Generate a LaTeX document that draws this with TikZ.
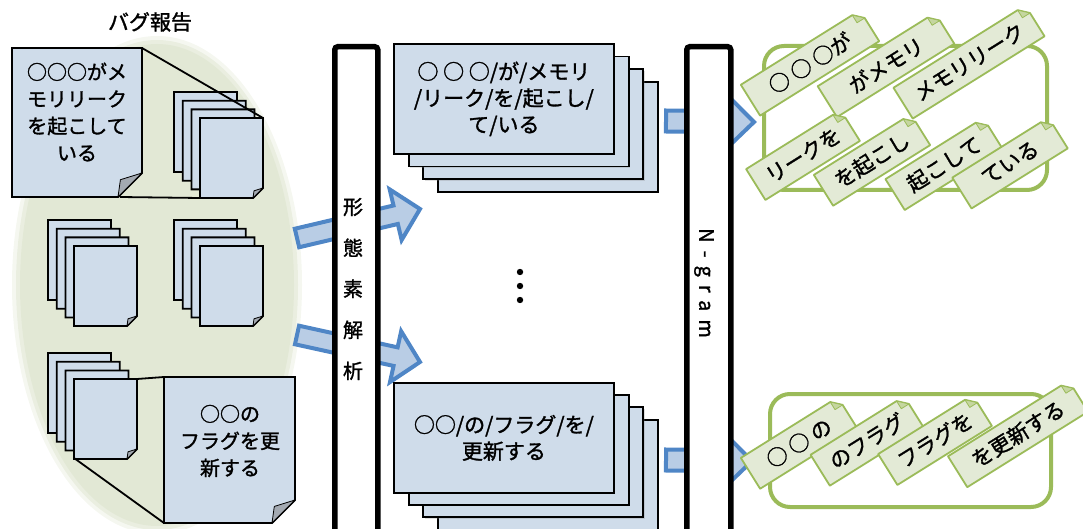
\documentclass[tikz,border=0pt]{standalone}
\usepackage{fontspec}
\newfontfamily\jp[FakeBold=1.4]{Noto Sans CJK JP}
\newfontfamily\jpsp[LetterSpace=40,FakeBold=1.4]{Noto Sans CJK JP}
\usetikzlibrary{calc,shadows}

\definecolor{noteblue}{HTML}{CFDCEA}
\definecolor{arrowfill}{HTML}{B9CDE5}
\definecolor{arrowline}{HTML}{4F86C6}
\definecolor{ellgreen}{HTML}{E2E8D5}
\definecolor{taggreen}{HTML}{E3EAD6}
\definecolor{tagline}{HTML}{9BBB59}
\definecolor{flapgray}{HTML}{A3A9B1}
\definecolor{flapgreen}{HTML}{C5D6A0}

\tikzset{
  sheet/.style={draw=black, line width=1.8pt, fill=noteblue, line join=miter},
  flap/.style={draw=black, line width=0.8pt, fill=flapgray, line join=round},
  txt/.style={font=\jp\fontsize{20}{27}\selectfont, align=center, inner sep=0pt},
  bar/.style={draw=black, line width=5.5pt, fill=white, rounded corners=3pt, anchor=north west, inner sep=0pt},
  card/.style={draw=black, line width=1.8pt, fill=noteblue, minimum width=220pt, minimum height=110pt, inner sep=0pt, anchor=north west, align=center, font=\jp\fontsize{21}{26.5}\selectfont, drop shadow={shadow xshift=1.2pt, shadow yshift=-1.5pt, opacity=0.25}},
  blockarrow/.style={draw=arrowline, fill=arrowfill, line width=4pt, line join=miter},
  gbox/.style={draw=tagline, line width=4pt, fill=white, rounded corners=20pt, anchor=north west, inner sep=0pt},
  gtagbox/.style={rotate=32, minimum height=36pt, inner sep=0pt},
  gtagfill/.style={draw=tagline, line width=1.8pt, fill=taggreen, line join=round},
  gtagflap/.style={draw=tagline, line width=0.8pt, fill=flapgreen, line join=round},
  gtagtext/.style={rotate=32, font=\jp\fontsize{21}{24}\selectfont, inner sep=0pt},
  calloutline/.style={draw=black, line width=1.8pt}
}

\newcommand{\sheet}[5]{%
  \filldraw[sheet] (#1,#2) -- (#1+#3,#2) -- (#1+#3,#2+#4-#5) -- (#1+#3-#5,#2+#4) -- (#1,#2+#4) -- cycle;
  \filldraw[flap] (#1+#3,#2+#4-#5) -- (#1+#3-#5,#2+#4) -- (#1+#3-0.9*#5,#2+#4-0.72*#5) -- cycle;
}
\newcommand{\stackof}[2]{%
  \sheet{#1}{#2}{63}{80}{10}
  \sheet{#1+8.7}{#2+8.7}{63}{80}{10}
  \sheet{#1+17.4}{#2+17.4}{63}{80}{10}
  \sheet{#1+26}{#2+26}{63}{80}{10}
}
\newcommand{\barrow}[8]{%
  \coordinate (#1s) at (#2,#3);
  \coordinate (#1e) at (#4,#5);
  \coordinate (#1b) at ($(#1e)!#8pt!(#1s)$);
  \filldraw[blockarrow] ($(#1s)!#6pt!90:(#1e)$) -- ($(#1b)!#6pt!90:(#1e)$) -- ($(#1b)!#7pt!90:(#1e)$) -- (#1e) -- ($(#1b)!#7pt!-90:(#1e)$) -- ($(#1b)!#6pt!-90:(#1e)$) -- ($(#1s)!#6pt!-90:(#1e)$) -- cycle;
}
\newcommand{\gtag}[5]{%
  \path (#2,#3) node[gtagbox, minimum width=#4pt] (#1) {};
  \coordinate (#1a) at ($(#1.north east)!9pt!(#1.north west)$);
  \coordinate (#1b) at ($(#1.north east)!9pt!(#1.south east)$);
  \coordinate (#1c) at ($(#1a)+(#1b)-(#1.north east)$);
  \filldraw[gtagfill] (#1.south west) -- (#1.north west) -- (#1a) -- (#1b) -- (#1.south east) -- cycle;
  \filldraw[gtagflap] (#1a) -- (#1b) -- (#1c) -- cycle;
  \node[gtagtext] (#1t) at (#1) {#5};
}

\begin{document}
\begin{tikzpicture}[x=1pt,y=-1pt]
\useasboundingbox (0,0) rectangle (1083,529);

% background ellipse
\fill[ellgreen, opacity=0.35] (157,285) ellipse [x radius=145pt, y radius=249pt];
\fill[ellgreen, opacity=0.6] (157,285) ellipse [x radius=141pt, y radius=245pt];
\fill[ellgreen] (157,285) ellipse [x radius=137pt, y radius=241pt];

% title
\node[txt, font=\jp\fontsize{21}{24}\selectfont] (title) at (150,22) {バグ報告};

% stacks of reports
\stackof{174}{92}
\stackof{48}{220}
\stackof{174}{220}
\stackof{48}{353}

% callout lines
\draw[calloutline] (142,48) -- (263,118);
\draw[calloutline] (120,197) -- (200,198);
\draw[calloutline] (137,379) -- (164,377);
\draw[calloutline] (74,458) -- (164,523);

% enlarged notes
\sheet{12}{48}{130}{149}{24}
\node[txt] (note1) at (77,112) {○○○がメ\\モリリーク\\を起こして\\いる};
\sheet{164}{377}{131}{146}{23}
\node[txt] (note2) at (230,441) {○○の\\フラグを更\\新する};

% big block arrows
\barrow{ba1}{297}{238}{420}{209}{9.5}{26}{25}
\barrow{ba2}{297}{335}{420}{362}{9.5}{26}{25}

% morphological analysis bar
\node[bar, minimum width=43pt, minimum height=520pt] (morph) at (332,44) {};
\node[txt, font=\jp\fontsize{20}{41}\selectfont] (morphtxt) at (353,289) {形\\態\\素\\解\\析};

% middle cards
\node[card] (c1d) at (437,81) {};
\node[card] (c1c) at (422.4,68.4) {};
\node[card] (c1b) at (407.7,55.7) {};
\node[card] (c1a) at (393,43) {○ ○ ○/が/メモリ\\/リーク/を/起こし/\\て/いる};

\node[card] (c2d) at (437,419) {};
\node[card] (c2c) at (422.4,406.4) {};
\node[card] (c2b) at (407.7,394) {};
\node[card] (c2a) at (393,382) {○○/の/フラグ/を/\\更新する};

% dots
\fill (520,272) circle[radius=3.2pt];
\fill (520,286) circle[radius=3.2pt];
\fill (520,300) circle[radius=3.2pt];

% small arrows
\barrow{sa1}{666}{121}{754}{122}{10.5}{27.5}{28}
\barrow{sa2}{666}{460}{752}{461}{10.5}{27.5}{28}

% N-gram bar
\node[bar, minimum width=44pt, minimum height=520pt] (ngrambar) at (684,44) {};
\node[rotate=-90, inner sep=0pt, font=\jpsp\fontsize{20}{24}\selectfont] (ngram) at (704,283) {N-gram};

% green boxes
\node[gbox, minimum width=283pt, minimum height=144pt] (gb1) at (762,44) {};
\node[gbox, minimum width=281pt, minimum height=113pt] (gb2) at (768,392) {};

% tags
\gtag{g1}{810}{63}{140}{○ ○ ○が}
\gtag{g2}{886}{65}{138}{がメモリ}
\gtag{g3}{969}{62}{155}{メモリリーク}
\gtag{g4}{803}{155}{111}{リークを}
\gtag{g5}{872}{160}{114}{を起こし}
\gtag{g6}{944}{164}{115}{起こして}
\gtag{g7}{1010}{163}{113}{ている}
\gtag{g8}{799}{443}{114}{○ ○ の}
\gtag{g9}{867}{441}{110}{のフラグ}
\gtag{g10}{935}{440}{111}{フラグを}
\gtag{g11}{1018}{434}{142}{を更新する}
\end{tikzpicture}
\end{document}
